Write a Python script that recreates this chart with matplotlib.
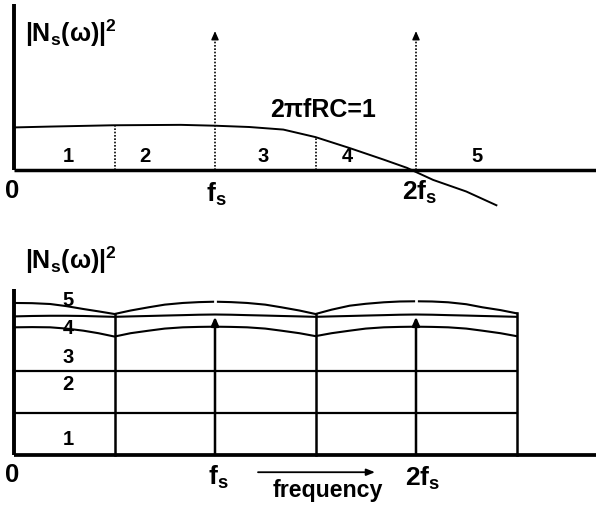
import matplotlib
matplotlib.use("Agg")
import matplotlib.pyplot as plt

plt.rcParams['font.family'] = ['Liberation Sans', 'DejaVu Sans']
plt.rcParams['font.weight'] = 'bold'
plt.rcParams['mathtext.fontset'] = 'custom'
plt.rcParams['mathtext.rm'] = 'Liberation Sans:bold'
plt.rcParams['mathtext.bf'] = 'Liberation Sans:bold'
plt.rcParams['mathtext.it'] = 'Liberation Sans:bold'
plt.rcParams['mathtext.sf'] = 'Liberation Sans:bold'
plt.rcParams['mathtext.default'] = 'bf'

# ---------------- data (frequency in units of fs) ----------------
# top panel: noise transfer |N_s(w)|^2 of the RC filter
filter_f = [0.0, 0.18, 0.49, 0.83, 1.0, 1.17, 1.34, 1.50, 1.67, 1.84, 1.955, 2.085, 2.25, 2.40]
filter_v = [0.99, 1.01, 1.04, 1.05, 1.03, 1.0, 0.94, 0.765, 0.51, 0.24, 0.05, -0.23, -0.5, -0.82]
band_edges_top = [0.5, 1.5]              # dotted band separators
impulse_f = [1.0, 2.0]                   # sampling impulses (fs, 2fs)
impulse_top_height = 3.23
band_labels = ['1', '2', '3', '4', '5']
band_label_f = [0.269, 0.652, 1.239, 1.657, 2.303]

# bottom panel: folded (aliased) noise bands stacked
fold_f = [0.0, 0.09, 0.18, 0.26, 0.345, 0.42, 0.5,
          0.58, 0.67, 0.75, 0.84, 0.92, 1.0, 1.08, 1.16, 1.25, 1.33, 1.42, 1.5,
          1.58, 1.67, 1.75, 1.84, 1.92, 2.0, 2.08, 2.16, 2.25, 2.33, 2.42, 2.5]
level1 = 1.0
level2 = 2.0
curve3 = [3.04, 3.045, 3.04, 3.01, 2.96, 2.90, 2.82,
          2.90, 2.96, 3.01, 3.04, 3.05, 3.055, 3.05, 3.04, 3.01, 2.96, 2.90, 2.83,
          2.90, 2.96, 3.01, 3.04, 3.05, 3.055, 3.05, 3.04, 3.01, 2.96, 2.90, 2.83]
curve4 = [3.30, 3.31, 3.315, 3.315, 3.31, 3.30, 3.29,
          3.30, 3.31, 3.32, 3.33, 3.34, 3.345, 3.34, 3.33, 3.32, 3.31, 3.30, 3.29,
          3.30, 3.31, 3.32, 3.33, 3.34, 3.345, 3.34, 3.33, 3.32, 3.31, 3.30, 3.29]
curve5 = [3.62, 3.615, 3.595, 3.545, 3.476, 3.42, 3.357,
          3.44, 3.517, 3.58, 3.62, 3.64, 3.65, 3.64, 3.62, 3.58, 3.517, 3.44, 3.357,
          3.46, 3.555, 3.60, 3.636, 3.655, 3.66, 3.655, 3.636, 3.59, 3.517, 3.45, 3.374]
fold_edges = [0.5, 1.5, 2.5]
fold_labels = ['5', '4', '3', '2', '1']
fold_label_v = [3.714, 3.024, 2.357, 1.714, 0.381]
impulse_bottom_height = 3.29

# ---------------- figure ----------------
W, H = 596, 506
fig = plt.figure(figsize=(W / 100, H / 100), dpi=100)

x_left = -14 / 201
x_right = 582 / 201

# top axes (pixel rows 0..230, baseline at 171, 43 px per unit)
ax1 = fig.add_axes([0, 1 - 230 / H, 1, 230 / H])
ax1.set_xlim(x_left, x_right)
ax1.set_ylim((171 - 230) / 43, 171 / 43)
ax1.axis('off')

# bottom axes (pixel rows 235..506, baseline at 456, 42 px per unit)
ax2 = fig.add_axes([0, 0, 1, 271 / H])
ax2.set_xlim(x_left, x_right)
ax2.set_ylim((456 - 506) / 42, (456 - 235) / 42)
ax2.axis('off')

K = 'black'
AXW = 2.8

# ---- top panel ----
ax1.plot([0, x_right], [0, 0], color=K, lw=2.5, solid_capstyle='butt')
ax1.plot([0, 0], [0, 3.86], color=K, lw=AXW, solid_capstyle='butt')
ax1.plot(filter_f, filter_v, color=K, lw=1.4)

def curve_at(fx, xs, ys):
    for i in range(len(xs) - 1):
        if xs[i] <= fx <= xs[i + 1]:
            t = (fx - xs[i]) / (xs[i + 1] - xs[i])
            return ys[i] + t * (ys[i + 1] - ys[i])
    return ys[-1]

for e in band_edges_top:
    ax1.plot([e, e], [0, curve_at(e, filter_f, filter_v)], color=K, lw=1.2,
             linestyle=(0, (1, 1)))
for f in impulse_f:
    ax1.plot([f, f], [0, impulse_top_height - 0.1], color=K, lw=1.2,
             linestyle=(0, (1, 1)))
    ax1.annotate('', xy=(f, impulse_top_height), xytext=(f, impulse_top_height - 0.12),
                 arrowprops=dict(arrowstyle='-|>,head_length=0.5,head_width=0.22',
                                 color=K, lw=1, shrinkA=0, shrinkB=0))

for lab, f in zip(band_labels, band_label_f):
    ax1.text(f, 0.326, lab, fontsize=14.5, fontweight='bold', ha='center', va='center')

ax1.text(0.055, 3.01, r'$|N_s(ω)|^2$', fontsize=18, ha='left', va='baseline')
ax1.text(1.274, 1.263, '2πfRC=1', fontsize=18, fontweight='bold', ha='left', va='baseline')
ax1.text(-0.01, -0.465, '0', fontsize=18.5, fontweight='bold', ha='center', va='center')
ax1.text(0.955, -0.714, r'$f_s$', fontsize=19, ha='left', va='baseline')
ax1.text(1.93, -0.68, r'$2f_s$', fontsize=19, ha='left', va='baseline')

# ---- bottom panel ----
ax2.plot([0, x_right], [0, 0], color=K, lw=2.7, solid_capstyle='butt')
ax2.plot([0, 0], [0, 3.95], color=K, lw=AXW, solid_capstyle='butt')
ax2.plot([0, fold_edges[-1]], [level1, level1], color=K, lw=1.6)
ax2.plot([0, fold_edges[-1]], [level2, level2], color=K, lw=1.6)
ax2.plot(fold_f, curve3, color=K, lw=1.5)
ax2.plot(fold_f, curve4, color=K, lw=1.5)
ax2.plot(fold_f, curve5, color=K, lw=1.5)
for e in fold_edges:
    ax2.plot([e, e], [0, curve_at(e, fold_f, curve5)], color=K, lw=1.8)
for f in impulse_f:
    top5 = curve_at(f, fold_f, curve5)
    ax2.plot([f, f], [top5 - 0.06, top5 + 0.06], color='white', lw=2)
    ax2.annotate('', xy=(f, impulse_bottom_height), xytext=(f, 0),
                 arrowprops=dict(arrowstyle='-|>,head_length=0.5,head_width=0.22',
                                 color=K, lw=1.8, shrinkA=0, shrinkB=0))

for lab, v in zip(fold_labels, fold_label_v):
    ax2.text(0.269, v, lab, fontsize=14.5, fontweight='bold', ha='center', va='center')

ax2.text(0.055, 4.445, r'$|N_s(ω)|^2$', fontsize=18, ha='left', va='baseline')
ax2.text(-0.01, -0.452, '0', fontsize=18.5, fontweight='bold', ha='center', va='center')
ax2.text(0.965, -0.69, r'$f_s$', fontsize=19, ha='left', va='baseline')
ax2.text(1.945, -0.705, r'$2f_s$', fontsize=19, ha='left', va='baseline')
ax2.annotate('', xy=(1.796, -0.41), xytext=(1.214, -0.41),
             arrowprops=dict(arrowstyle='-|>,head_length=0.5,head_width=0.2',
                             color=K, lw=1.3, shrinkA=0, shrinkB=0))
ax2.text(1.289, -0.97, 'frequency', fontsize=16.7, fontweight='bold', ha='left', va='baseline')

fig.savefig('out.png', dpi=100)
